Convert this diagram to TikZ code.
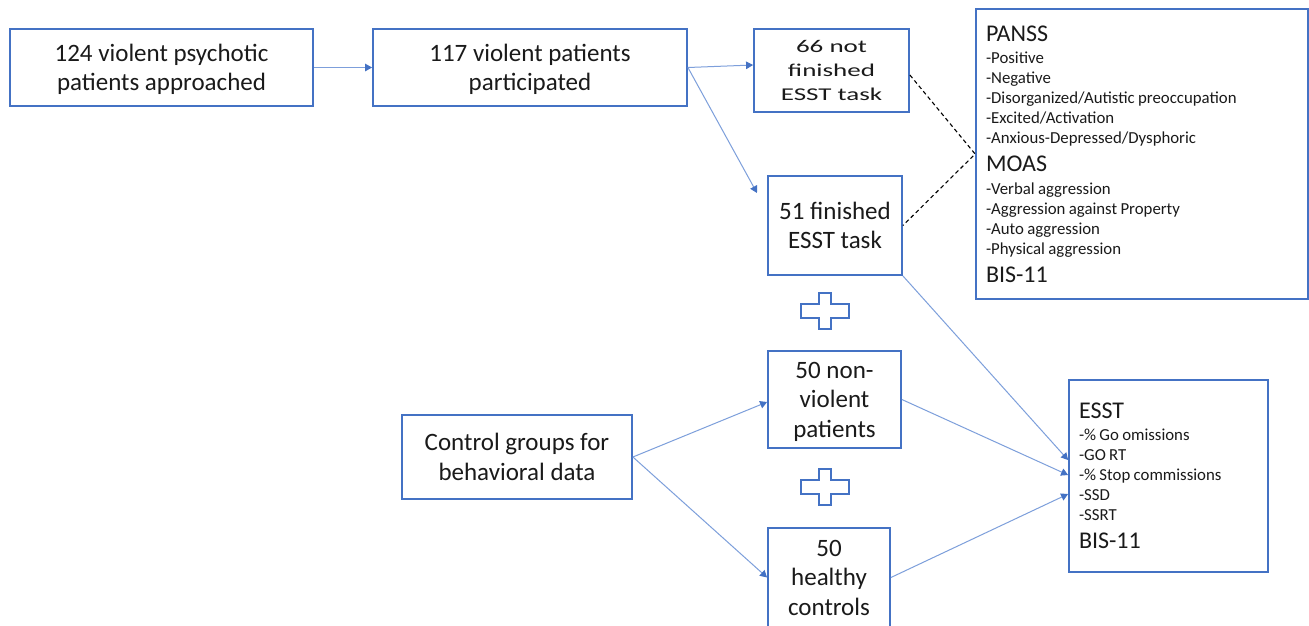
\documentclass[tikz,border=0pt]{standalone}
\usepackage{fontspec}
\setmainfont{Carlito}
\newfontfamily\widefont[FakeStretch=1.5]{Carlito}
\usetikzlibrary{arrows.meta,calc}
\definecolor{boxblue}{HTML}{4472C4}
\definecolor{linkblue}{HTML}{7D9FDB}
\definecolor{ink}{HTML}{1A1A1A}
\newcommand\hdfont{\fontsize{24}{28}\selectfont}
\newcommand\itemfont{\fontsize{16.8}{20}\selectfont}
\begin{document}
\begin{tikzpicture}[x=1pt,y=-1pt,
  flowbox/.style={draw=boxblue,line width=1.8pt,inner sep=0pt,align=center,text=ink,
    font=\fontsize{25}{29.5}\selectfont},
  listbox/.style={draw=boxblue,line width=1.8pt,inner xsep=10pt,inner ysep=0pt,align=left,text=ink},
  conn/.style={draw=linkblue,line width=1pt,-{Triangle[length=7pt,width=7.5pt,color=boxblue]}},
  linkdash/.style={draw=black,line width=1.1pt,dash pattern=on 4pt off 3pt},
  plussign/.pic={\draw[draw=boxblue,line width=1.5pt]
    (-6,-18) -- (6,-18) -- (6,-7) -- (24,-7) -- (24,7) -- (6,7) -- (6,18)
    -- (-6,18) -- (-6,7) -- (-24,7) -- (-24,-7) -- (-6,-7) -- cycle;}
]
\path[use as bounding box,fill=white] (0,0) rectangle (1309,625);
\clip (0,0) rectangle (1309,625);

\node[flowbox,minimum width=303,minimum height=77,text depth=0pt] (A) at (161.5,67.5) {124 violent psychotic\\patients approached};
\node[flowbox,minimum width=314,minimum height=77,text depth=0pt] (B) at (530,67.5) {117 violent patients\\participated};
\node[flowbox,minimum width=155,minimum height=83,font=\widefont\fontsize{18}{24}\selectfont] (C) at (831.5,70.5) {66 not\\finished\\ESST task};
\node[flowbox,minimum width=134,minimum height=99] (D) at (835,225.5) {51 finished\\ESST task};
\node[flowbox,minimum width=133,minimum height=97,text depth=0pt] (E) at (834.5,399.5) {50 non-\\violent\\patients};
\node[flowbox,minimum width=122,minimum height=99] (F) at (829,577.5) {50\\healthy\\controls};
\node[flowbox,minimum width=230,minimum height=84] (G) at (517,457) {Control groups for\\behavioral data};

\node[listbox,minimum width=332,minimum height=290,text width=312pt] (P) at (1142,154) {%
{\hdfont PANSS\par}\vspace{2pt}%
{\itemfont -Positive\par -Negative\par -Disorganized/Autistic preoccupation\par -Excited/Activation\par -Anxious-Depressed/Dysphoric\par}%
{\hdfont MOAS\par}\vspace{3pt}%
{\itemfont -Verbal aggression\par -Aggression against Property\par -Auto aggression\par -Physical aggression\par}%
{\hdfont BIS-11\par}};

\node[listbox,minimum width=199,minimum height=192,text width=179pt] (H) at (1168.5,476) {%
{\hdfont ESST\par}\vspace{2pt}%
{\itemfont -\% Go omissions\par -GO RT\par -\% Stop commissions\par -SSD\par -SSRT\par}%
{\hdfont BIS-11\par}};

\pic at (825,311) {plussign};
\pic at (825,487) {plussign};

\coordinate (dIn) at (757,193);
\draw[conn] (A.east) -- (B.west);
\draw[conn] (B.east) -- ($(C.west)+(0,-5.5)$);
\draw[conn] (B.east) -- (dIn);
\draw[linkdash] ($(C.east)+(0,4.5)$) -- (P.west) -- (D.east);
\draw[conn] (D.south east) -- ($(H.west)+(0,-16)$);
\draw[conn] (E.east) -- ($(H.west)+(0,-1)$);
\draw[conn] (F.east) -- ($(H.west)+(0,18)$);
\draw[conn] (G.east) -- ($(E.west)+(0,2.5)$);
\draw[conn] (G.east) -- (F.west);
\end{tikzpicture}
\end{document}
